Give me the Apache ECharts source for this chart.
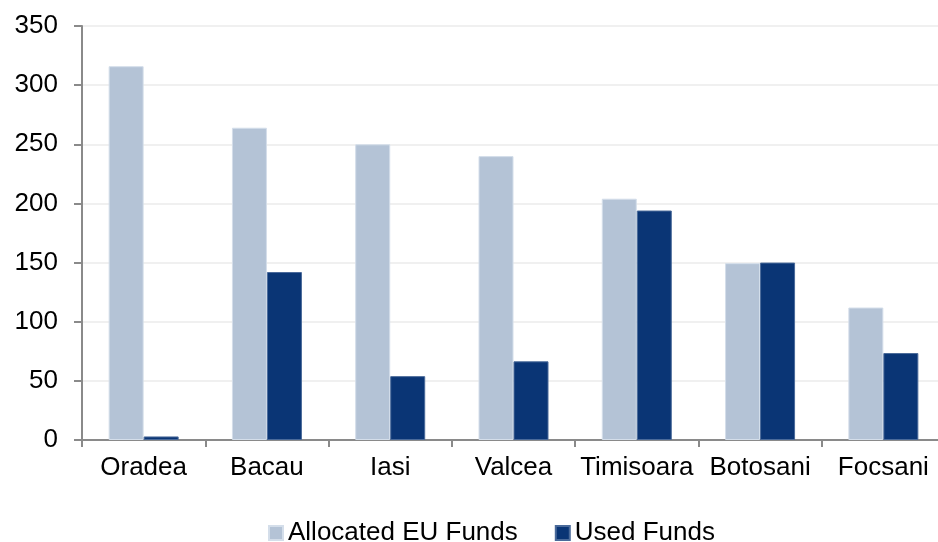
<!DOCTYPE html>
<html>
  <head>
    <meta charset="utf-8" />
    <script src="https://cdn.jsdelivr.net/npm/echarts@6/dist/echarts.min.js"></script>
    <title></title>
    <style type="text/css">
      html, body { margin: 0; padding: 0; background: #fff; }
      #chart { width: 938px; height: 542px; }
    </style>
  </head>
  <body>
    <div id="chart"></div>
    <script type="text/javascript">
      var cities = ['Oradea', 'Bacau', 'Iasi', 'Valcea', 'Timisoara', 'Botosani', 'Focsani']
      var allocated = [316, 264, 250, 240, 204, 149.5, 112]
      var used = [3, 142, 54, 66.5, 194, 150, 73.5]
      var yTicks = [0, 50, 100, 150, 200, 250, 300, 350]

      var font = 'Liberation Sans, Arial, sans-serif'
      var chart = echarts.init(document.getElementById('chart'))

      chart.setOption({
        animation: false,
        textStyle: { fontFamily: font },
        grid: {
          left: 82,
          top: 26,
          width: 863, // 7 categories of ~123px, last one runs off the edge
          height: 414,
          outerBoundsMode: 'none'
        },
        legend: {
          top: 515,
          left: 263,
          itemWidth: 14,
          itemHeight: 14,
          itemGap: 37,
          icon: 'rect',
          textStyle: { fontSize: 26, color: '#000', fontFamily: font },
          data: ['Allocated EU Funds', 'Used Funds']
        },
        xAxis: {
          type: 'category',
          data: cities,
          axisLine: { lineStyle: { color: '#8a8a8a', width: 2 } },
          axisTick: { show: true, length: 7, lineStyle: { color: '#8a8a8a', width: 2 } },
          axisLabel: { color: '#000', fontSize: 26, margin: 15, interval: 0 }
        },
        yAxis: {
          type: 'value',
          min: yTicks[0],
          max: yTicks[yTicks.length - 1],
          interval: 50,
          axisLine: { show: true, lineStyle: { color: '#8a8a8a', width: 2 } },
          axisTick: { show: true, length: 8, lineStyle: { color: '#8a8a8a', width: 2 } },
          axisLabel: { color: '#000', fontSize: 26, margin: 24 },
          splitLine: { lineStyle: { color: '#f0f0f0', width: 2 } }
        },
        series: [
          {
            name: 'Allocated EU Funds',
            type: 'bar',
            data: allocated,
            barWidth: 35,
            barGap: '0%',
            itemStyle: { color: '#b4c3d6', borderColor: '#d4deea', borderWidth: 1 }
          },
          {
            name: 'Used Funds',
            type: 'bar',
            data: used,
            barWidth: 35,
            barGap: '0%',
            itemStyle: { color: '#0a3575', borderColor: '#4a6a9a', borderWidth: 1 }
          }
        ]
      })
    </script>
  </body>
</html>
